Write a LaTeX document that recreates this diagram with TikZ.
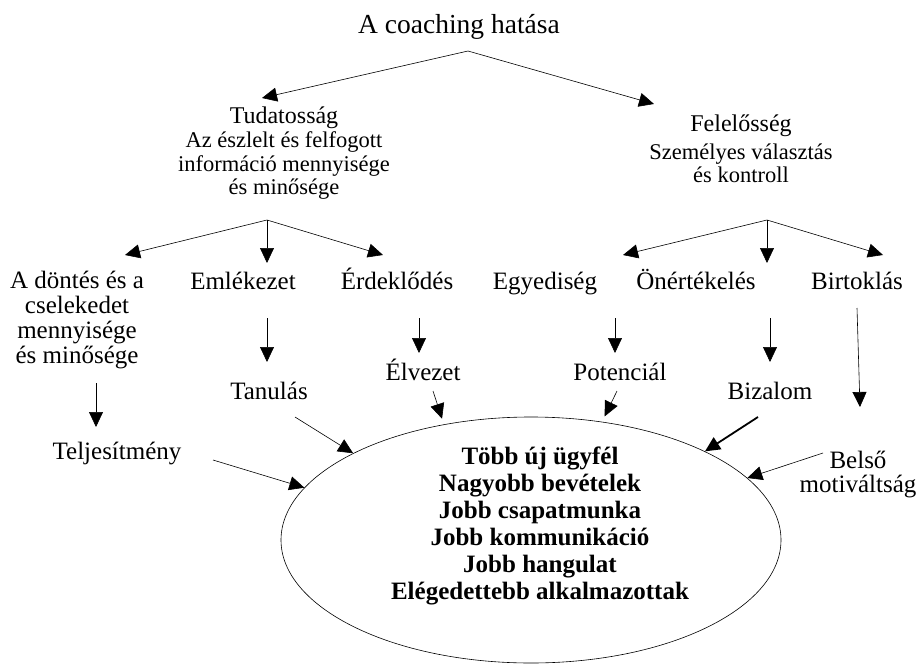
\documentclass[tikz,border=0pt]{standalone}
\usepackage{fontspec}
\setmainfont{Liberation Serif}
\usetikzlibrary{arrows.meta, shapes.geometric, calc}

\begin{document}
\begin{tikzpicture}[x=1pt, y=-1pt, line width=0.6pt, >={Triangle[length=15pt,width=14pt]}]
    \tikzstyle{every node}=[inner sep=1pt]
    \tikzstyle{headline}=[font=\fontsize{27.5}{30}\selectfont]
    \tikzstyle{branch}=[font=\fontsize{24}{26}\selectfont, text height=17pt, text depth=5pt]
    \tikzstyle{note}=[font=\fontsize{22.5}{23.5}\selectfont, align=center]
    \tikzstyle{block}=[font=\fontsize{25}{24.7}\selectfont, align=center]
    \tikzstyle{term}=[font=\fontsize{25}{24.7}\selectfont, text height=17pt, text depth=5pt]
    \tikzstyle{goal text}=[font=\bfseries\fontsize{25}{27}\selectfont, align=center]
    \tikzstyle{heavy}=[->, line width=1.8pt]

    \useasboundingbox (0,0) rectangle (919,664);

    % Title and the two main branches
    \node[headline] (hatas) at (459,27) {A coaching hatása};
    \node[branch] (tudat) at (284,117) {Tudatosság};
    \node[note] (tudat-sub) at (284,166) {Az észlelt és felfogott\\információ mennyisége\\és minősége};
    \node[branch] (felel) at (741,125) {Felelősség};
    \node[note] (felel-sub) at (741,163.5) {Személyes választás\\és kontroll};

    % Third row
    \node[block] (dontes) at (77,320) {A döntés és a\\cselekedet\\mennyisége\\és minősége};
    \node[term] (emlek) at (243,283) {Emlékezet};
    \node[term] (erdek) at (397,283) {Érdeklődés};
    \node[term] (egyed) at (545,283) {Egyediség};
    \node[term] (onert) at (696,283) {Önértékelés};
    \node[term] (birt) at (857,283) {Birtoklás};

    % Fourth row
    \node[term] (telj) at (117,453) {Teljesítmény};
    \node[term] (tanulas) at (269,393) {Tanulás};
    \node[term] (elvezet) at (423,374) {Élvezet};
    \node[term] (potencial) at (620,374) {Potenciál};
    \node[term] (bizalom) at (770,393) {Bizalom};
    \node[block] (belso) at (858,474.5) {Belső\\motiváltság};

    % The outcome ellipse
    \node[draw, ellipse, minimum width=500pt, minimum height=246pt, inner sep=0pt] (goal) at (531,540) {};
    \node[goal text] (eredmeny) at (540,525.5) {Több új ügyfél\\Nagyobb bevételek\\Jobb csapatmunka\\Jobb kommunikáció\\Jobb hangulat\\Elégedettebb alkalmazottak};

    % Top fork
    \coordinate (fork-top) at ($(hatas)+(9,24)$);
    \draw[->] (fork-top) -- ($(tudat)+(-22,-19)$);
    \draw[->] (fork-top) -- ($(felel)+(-87,-21)$);

    % Forks below the branches
    \coordinate (fork-tudat) at ($(tudat-sub)+(-17,54)$);
    \draw[->] (fork-tudat) -- ($(dontes)+(48,-65)$);
    \draw[->] (fork-tudat) -- ($(emlek)+(24,-20)$);
    \draw[->] (fork-tudat) -- ($(erdek)+(-14,-28)$);

    \coordinate (fork-felel) at ($(felel-sub)+(26,56.5)$);
    \draw[->] (fork-felel) -- ($(egyed)+(78,-28)$);
    \draw[->] (fork-felel) -- ($(onert)+(71,-20)$);
    \draw[->] (fork-felel) -- ($(birt)+(26,-28)$);

    % Third row to fourth row
    \draw[->] ($(dontes)+(19,63)$) -- ($(telj)+(-21,-26)$);
    \draw[->] ($(emlek)+(24,35)$) -- ($(tanulas)+(-2,-31)$);
    \draw[->] ($(erdek)+(22,35)$) -- ($(elvezet)+(-4,-21)$);
    \draw[->] ($(egyed)+(70,35)$) -- ($(potencial)+(-5,-21)$);
    \draw[->] ($(onert)+(74,35)$) -- ($(bizalom)+(0,-31)$);
    \draw[->] ($(birt)+(0,25)$) -- ($(belso)+(2,-67.5)$);

    % Into the ellipse
    \draw[->] ($(telj)+(96,7)$) -- (goal.167);
    \draw[->] ($(tanulas)+(26,24)$) -- (goal.154);
    \draw[->, shorten >=6pt] ($(elvezet)+(10,17)$) -- (goal.127);
    \draw[->, shorten >=6pt] ($(potencial)+(-3,17)$) -- (goal.59);
    \draw[heavy] ($(bizalom)+(-12,24)$) -- (goal.27);
    \draw[->] ($(belso)+(-35,-21.5)$) -- (goal.16);
\end{tikzpicture}
\end{document}
